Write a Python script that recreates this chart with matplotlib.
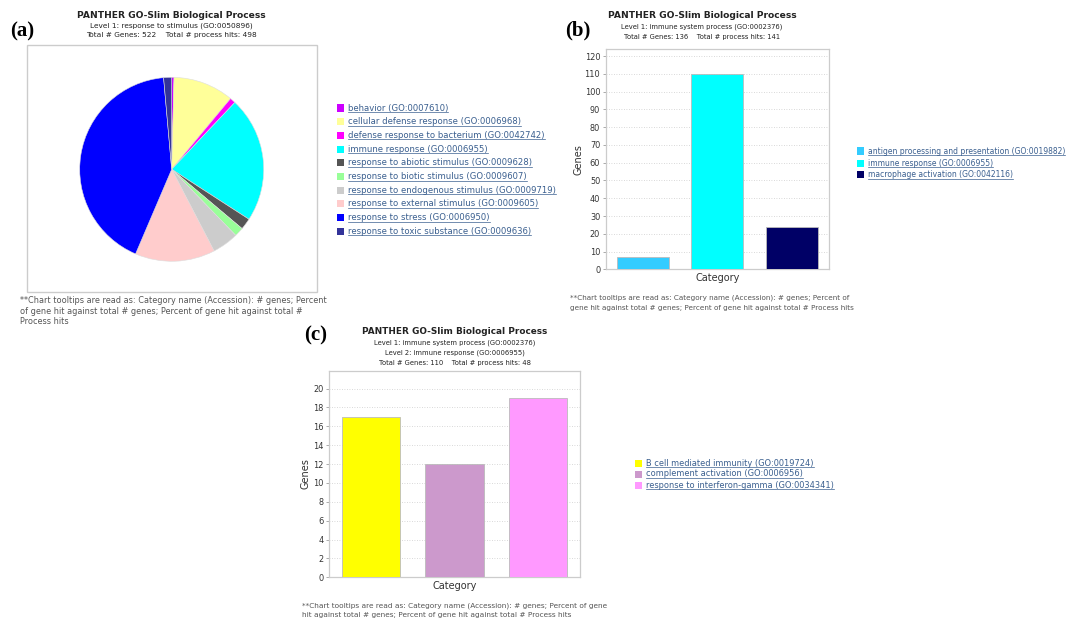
import matplotlib
matplotlib.use("Agg")
import matplotlib.pyplot as plt
from matplotlib.patches import Rectangle
from matplotlib.lines import Line2D

W, H = 1073, 621
plt.rcParams['font.family'] = ['DejaVu Sans']

# ---------------- data ----------------
pie_labels = ["behavior (GO:0007610)",
              "cellular defense response (GO:0006968)",
              "defense response to bacterium (GO:0042742)",
              "immune response (GO:0006955)",
              "response to abiotic stimulus (GO:0009628)",
              "response to biotic stimulus (GO:0009607)",
              "response to endogenous stimulus (GO:0009719)",
              "response to external stimulus (GO:0009605)",
              "response to stress (GO:0006950)",
              "response to toxic substance (GO:0009636)"]
pie_values = [2, 53, 5, 110, 10, 8, 23, 70, 210, 7]
pie_colors = ["#CC00FF", "#FFFF99", "#FF00FF", "#00FFFF", "#555555",
              "#99FF99", "#CCCCCC", "#FFCCCC", "#0000FF", "#333399"]

b_labels = ["antigen processing and presentation (GO:0019882)",
            "immune response (GO:0006955)",
            "macrophage activation (GO:0042116)"]
b_values = [7, 110, 24]
b_colors = ["#33CCFF", "#00FFFF", "#000066"]
b_ticks = list(range(0, 121, 10))

c_labels = ["B cell mediated immunity (GO:0019724)",
            "complement activation (GO:0006956)",
            "response to interferon-gamma (GO:0034341)"]
c_values = [17, 12, 19]
c_colors = ["#FFFF00", "#CC99CC", "#FF99FF"]
c_ticks = list(range(0, 21, 2))

title_main = "PANTHER GO-Slim Biological Process"
a_sub = ["Level 1: response to stimulus (GO:0050896)",
         "Total # Genes: 522    Total # process hits: 498"]
b_sub = ["Level 1: immune system process (GO:0002376)",
         "Total # Genes: 136    Total # process hits: 141"]
c_sub = ["Level 1: immune system process (GO:0002376)",
         "Level 2: immune response (GO:0006955)",
         "Total # Genes: 110    Total # process hits: 48"]
note_a = ["**Chart tooltips are read as: Category name (Accession): # genes; Percent",
          "of gene hit against total # genes; Percent of gene hit against total #",
          "Process hits"]
note_b = ["**Chart tooltips are read as: Category name (Accession): # genes; Percent of",
          "gene hit against total # genes; Percent of gene hit against total # Process hits"]
note_c = ["**Chart tooltips are read as: Category name (Accession): # genes; Percent of gene",
          "hit against total # genes; Percent of gene hit against total # Process hits"]

fig = plt.figure(figsize=(W / 100, H / 100), dpi=100)
fig.patch.set_facecolor("white")

def fx(x):
    return x / W

def fy(y):
    return 1 - y / H

def ptext(x, y, s, **kw):
    return fig.text(fx(x), fy(y), s, **kw)

LINK = "#3A5F8F"
links = []

def headers(cx, y0, subs, label, lx, ly, tsz, ssz, dy):
    ptext(cx, y0, title_main, ha="center", va="center", fontsize=tsz,
          fontweight="bold", color="#222222")
    for i, s in enumerate(subs):
        ptext(cx, y0 + dy + 0.5 + i * dy, s, ha="center", va="center",
              fontsize=ssz, color="#222222")
    ptext(lx, ly, label, ha="center", va="center", fontsize=15,
          fontweight="bold", family="Liberation Serif", color="black")

def legend(x, y0, dy, labels, colors, sz):
    for i, (lab, col) in enumerate(zip(labels, colors)):
        y = y0 + i * dy
        fig.patches.append(Rectangle((fx(x - 3.5), fy(y + 3.5)), 7 / W, 7 / H,
                                     transform=fig.transFigure, facecolor=col,
                                     edgecolor="none"))
        t = ptext(x + 8, y, lab, ha="left", va="center", fontsize=sz, color=LINK)
        links.append(t)

def notes(x, y0, dy, lines, sz):
    for i, s in enumerate(lines):
        ptext(x, y0 + i * dy, s, ha="left", va="center", fontsize=sz,
              color="#555555")

# ---------------- panel (a) pie ----------------
headers(171, 15, a_sub, "(a)", 22, 31, 6.6, 5.3, 10)
fig.patches.append(Rectangle((fx(27), fy(292)), (317 - 27) / W, (292 - 45) / H,
                             transform=fig.transFigure, facecolor="none",
                             edgecolor="#CCCCCC", linewidth=1))
cx, cy, r = 171.7, 169.3, 92
axp = fig.add_axes([fx(cx - r), fy(cy + r), 2 * r / W, 2 * r / H])
axp.pie(pie_values, colors=pie_colors, startangle=90, counterclock=False,
        wedgeprops=dict(edgecolor="#DDDDDD", linewidth=0.4))
axp.set_xlim(-1, 1)
axp.set_ylim(-1, 1)
axp.set_aspect("equal")
axp.axis("off")
legend(340, 108, 13.7, pie_labels, pie_colors, 6.1)
notes(20, 301, 10.5, note_a, 5.9)

# ---------------- bar helper ----------------
def bar_panel(left, right, top, bottom, values, colors, ticks, ymax, xpad, ypad):
    ax = fig.add_axes([fx(left), fy(bottom), (right - left) / W, (bottom - top) / H])
    ax.bar(range(len(values)), values, width=0.7, color=colors,
           edgecolor="#BBBBBB", linewidth=0.6, zorder=3)
    ax.set_xlim(-0.5, len(values) - 0.5)
    ax.set_ylim(0, ymax)
    ax.set_yticks(ticks)
    ax.set_xticks([])
    ax.tick_params(axis="y", labelsize=5.9, length=2, width=0.5,
                   color="#888888", labelcolor="#333333", pad=2)
    ax.grid(axis="y", linestyle=(0, (1, 2)), color="#CCCCCC", linewidth=0.6, zorder=0)
    for sp in ax.spines.values():
        sp.set_color("#CCCCCC")
        sp.set_linewidth(0.9)
    ax.set_ylabel("Genes", fontsize=7, color="#333333", labelpad=ypad)
    ax.set_xlabel("Category", fontsize=7, color="#333333", labelpad=xpad)
    return ax

# ---------------- panel (b) ----------------
headers(702, 16, b_sub, "(b)", 578, 30, 6.6, 4.9, 10)
bar_panel(605.7, 829, 49, 269.3, b_values, b_colors, b_ticks, 124, 3, 1)
legend(860, 151, 12, b_labels, b_colors, 5.5)
notes(570, 298, 10, note_b, 5.2)

# ---------------- panel (c) ----------------
headers(455, 332, c_sub, "(c)", 316, 335, 6.4, 4.9, 10)
bar_panel(329.3, 580, 370.7, 577.3, c_values, c_colors, c_ticks, 21.9, 3, 2)
legend(638, 463, 11, c_labels, c_colors, 5.95)
notes(302, 606, 9.5, note_c, 5.35)

# underline link texts
fig.canvas.draw()
renderer = fig.canvas.get_renderer()
for t in links:
    bb = t.get_window_extent(renderer)
    yline = bb.y0 + 0.5
    fig.lines.append(Line2D([bb.x0 / W, bb.x1 / W], [yline / H, yline / H],
                            transform=fig.transFigure, color=LINK, linewidth=0.5))

fig.savefig("out.png", dpi=100, facecolor="white")
